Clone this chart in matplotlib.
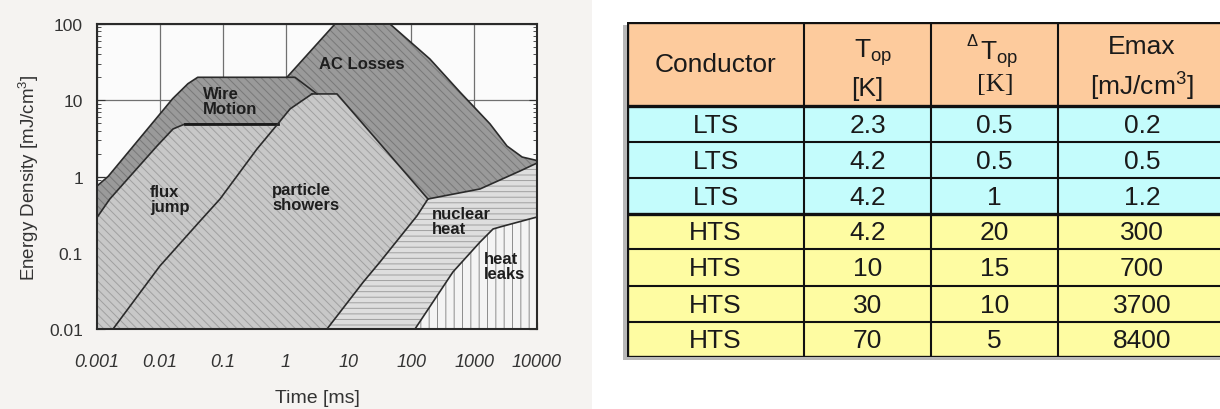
import matplotlib
matplotlib.use('Agg')
import matplotlib.pyplot as plt
from matplotlib.patches import Rectangle

plt.rcParams['font.family'] = ['Liberation Sans', 'DejaVu Sans']
plt.rcParams['mathtext.fontset'] = 'custom'
plt.rcParams['mathtext.rm'] = 'Liberation Sans'
plt.rcParams['mathtext.it'] = 'Liberation Sans:italic'
plt.rcParams['mathtext.bf'] = 'Liberation Sans:bold'
plt.rcParams['hatch.linewidth'] = 0.7

# ---- chart data (time in ms, energy density in mJ/cm3) ----
x_ticks = [0.001, 0.01, 0.1, 1, 10, 100, 1000, 10000]
x_tick_labels = ['0.001', '0.01', '0.1', '1', '10', '100', '1000', '10000']
y_ticks = [0.01, 0.1, 1, 10, 100]
y_tick_labels = ['0.01', '0.1', '1', '10', '100']

# upper edge of wire motion
wm_top_t = [0.001, 0.0015, 0.016, 0.028, 0.04, 1.41, 3.16]
wm_top_e = [0.75, 1.0, 10.5, 16.5, 20, 20, 12.1]
# flux jump upper edge
fj_top_t = [0.001, 0.0016, 0.009, 0.0162, 0.025, 0.75]
fj_top_e = [0.29, 0.507, 2.51, 4.2, 4.88, 4.88]
# particle showers left edge
ps_left_t = [0.0018, 0.01, 0.0435, 0.0906, 0.35, 0.75, 1.18, 2.63]
ps_left_e = [0.01, 0.067, 0.26, 0.507, 2.29, 4.88, 7.7, 12.1]
# particle showers top and right edge
ps_right_t = [2.63, 6.58, 184]
ps_right_e = [12.1, 12.1, 0.507]
# particle showers / nuclear heat edge
pn_t = [184, 123, 31.8, 17.1, 4.56]
pn_e = [0.507, 0.304, 0.0757, 0.041, 0.01]
# AC losses upper edge
ac_top_t = [1.05, 6.11, 45.8, 198, 595, 1786, 3333, 5800, 10000]
ac_top_e = [20, 100, 100, 34.7, 12.8, 4.9, 2.51, 1.8, 1.62]
# AC losses lower edge (right part)
ac_low_t = [184, 1239, 5361, 10000]
ac_low_e = [0.507, 0.686, 1.18, 1.5]
# heat leaks upper edge
hl_t = [114.5, 460, 1239, 2000, 2700, 7727, 10000]
hl_e = [0.01, 0.056, 0.138, 0.205, 0.22, 0.278, 0.294]

region_names = ['Wire\nMotion', 'AC Losses', 'flux\njump', 'particle\nshowers',
                'nuclear\nheat', 'heat\nleaks']
label_pos = [(0.0486, 9.8), (3.4, 29.9), (0.00697, 0.507), (0.608, 0.54),
             (213, 0.26), (1435, 0.067)]

# ---- table data ----
conductors = ['LTS', 'LTS', 'LTS', 'HTS', 'HTS', 'HTS', 'HTS']
t_op = ['2.3', '4.2', '4.2', '4.2', '10', '30', '70']
dt_op = ['0.5', '0.5', '1', '20', '15', '10', '5']
emax = ['0.2', '0.5', '1.2', '300', '700', '3700', '8400']

fig = plt.figure(figsize=(12.2, 4.1), dpi=100)
fig.add_artist(Rectangle((0, 0), 592 / 1220, 1, transform=fig.transFigure,
                         facecolor='#f5f3f1', edgecolor='none', zorder=-10))

ax = fig.add_axes([97 / 1220, 80 / 410, 440 / 1220, 305 / 410])
ax.set_facecolor('#fbfbfb')
ax.set_xscale('log')
ax.set_yscale('log')
ax.set_xlim(0.001, 10000)
ax.set_ylim(0.01, 100)

light = dict(facecolor='#c8c8c8', edgecolor='#a0a0a0', hatch='\\\\\\\\', linewidth=0)
dark = dict(facecolor='#9a9a9a', edgecolor='#787878', hatch='\\\\\\\\', linewidth=0)

# wire motion
ax.fill(wm_top_t + ps_left_t[::-1][:4] + fj_top_t[::-1],
        wm_top_e + ps_left_e[::-1][:4] + fj_top_e[::-1], zorder=2, **dark)
# flux jump
ax.fill([0.001] + ps_left_t[:6] + fj_top_t[::-1],
        [0.01] + ps_left_e[:6] + fj_top_e[::-1], zorder=2, **light)
# particle showers
ax.fill(ps_left_t + ps_right_t + pn_t,
        ps_left_e + ps_right_e + pn_e, zorder=2, **light)
# AC losses
ax.fill(ac_top_t + ac_low_t[::-1] + ps_right_t[::-1] + [3.16, 1.41],
        ac_top_e + ac_low_e[::-1] + ps_right_e[::-1] + [12.1, 20], zorder=2, **dark)
# nuclear heat
ax.fill(pn_t[::-1] + ac_low_t[1:] + hl_t[::-1],
        pn_e[::-1] + ac_low_e[1:] + hl_e[::-1], zorder=2,
        facecolor='#dedede', edgecolor='#a0a0a0', hatch='---', linewidth=0)
# heat leaks
ax.fill(hl_t + [10000], hl_e + [0.01], zorder=2,
        facecolor='#f4f4f4', edgecolor='#8c8c8c', hatch='||', linewidth=0)

line = dict(color='#2b2b2b', lw=1.2, zorder=3)
ax.plot(wm_top_t, wm_top_e, **line)
ax.plot(fj_top_t, fj_top_e, **line)
ax.plot(fj_top_t[-2:], fj_top_e[-2:], color='#1a1a1a', lw=2, zorder=3)
ax.plot(ps_left_t, ps_left_e, **line)
ax.plot(ps_right_t, ps_right_e, **line)
ax.plot(pn_t, pn_e, **line)
ax.plot(ac_top_t, ac_top_e, **line)
ax.plot(ac_low_t, ac_low_e, **line)
ax.plot(hl_t, hl_e, **line)

for name, (t, e) in zip(region_names, label_pos):
    ax.text(t, e, name, ha='left', va='center', fontsize=12, fontweight='bold',
            color='#1e1e1e', linespacing=1.0, zorder=4)

ax.grid(True, which='major', color='#707070', lw=0.9, zorder=0)
ax.set_axisbelow(True)
ax.set_xticks(x_ticks, x_tick_labels)
ax.set_yticks(y_ticks, y_tick_labels)
ax.xaxis.set_minor_locator(matplotlib.ticker.NullLocator())
ax.tick_params(which='both', direction='in', right=True, top=False, colors='#333333')
ax.tick_params(axis='x', which='major', length=5, pad=17, labelsize=13)
ax.tick_params(axis='y', which='major', length=6, pad=10, labelsize=12.5)
ax.tick_params(axis='y', which='minor', length=3)
for lab in ax.get_xticklabels():
    lab.set_style('italic')
for sp in ax.spines.values():
    sp.set_linewidth(1.5)
    sp.set_color('#2a2a2a')
    sp.set_zorder(5)
ax.set_xlabel('Time [ms]', fontsize=14, labelpad=14, color='#333333')
ax.set_ylabel('Energy Density [mJ/cm$^3$]', fontsize=13.5, labelpad=6, color='#333333')

# ---- table ----
col_edges = [0, 177, 304, 431, 599]
row_edges = [0, 84, 120, 156, 192, 227, 264, 300, 335]
header_color = '#fdcb9d'
lts_color = '#c4fcfc'
hts_color = '#fefca2'

tab = fig.add_axes([627 / 1220, 52 / 410, 599 / 1220, 335 / 410])
tab.set_xlim(0, 599)
tab.set_ylim(335, 0)
tab.axis('off')

tab.add_patch(Rectangle((-4, 3), 603, 335, facecolor='#b8b8b8', edgecolor='none',
                        zorder=0, clip_on=False))
tab.add_patch(Rectangle((0, 0), 599, row_edges[1], facecolor=header_color,
                        edgecolor='none', zorder=1))
for i, cond in enumerate(conductors):
    row = [cond, t_op[i], dt_op[i], emax[i]]
    color = lts_color if cond == 'LTS' else hts_color
    y0, y1 = row_edges[i + 1], row_edges[i + 2]
    tab.add_patch(Rectangle((0, y0), 599, y1 - y0, facecolor=color,
                            edgecolor='none', zorder=1))
    for j, val in enumerate(row):
        tab.text((col_edges[j] + col_edges[j + 1]) / 2, (y0 + y1) / 2 + 1, val,
                 ha='center', va='center', fontsize=19, color='#1a1a1a', zorder=3)

for i, y in enumerate(row_edges):
    lw = 2.4 if i in (0, 1, 4, len(row_edges) - 1) else 1.5
    tab.plot([0, 599], [y, y], color='#111111', lw=lw, zorder=2, solid_capstyle='butt')
for x in col_edges:
    tab.plot([x, x], [0, 335], color='#111111', lw=2.4 if x == 0 else 1.5, zorder=2)

hdr = dict(ha='center', va='center', color='#1a1a1a', zorder=3)
tab.text(88, 42, 'Conductor', fontsize=19, **hdr)
tab.text(246, 30, r'T$_{\rm op}$', fontsize=19, **hdr)
tab.text(240, 66, '[K]', fontsize=19, **hdr)
tab.text(345, 19, 'Δ', fontsize=12, **hdr)
tab.text(372, 32, r'T$_{\rm op}$', fontsize=19, **hdr)
tab.text(368, 62, '[K]', fontsize=19, family='Liberation Serif', **hdr)
tab.text(515, 24, 'Emax', fontsize=19, **hdr)
tab.text(515, 64, '[mJ/cm$^3$]', fontsize=19, **hdr)

fig.savefig('out.png', dpi=100)
